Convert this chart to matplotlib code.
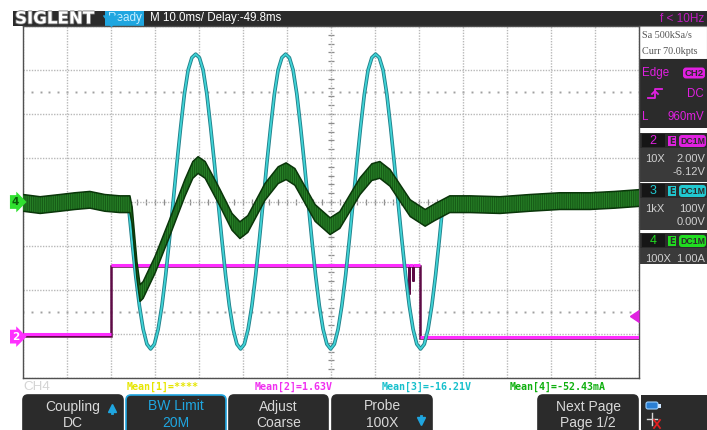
import numpy as np
import matplotlib
matplotlib.use("Agg")
import matplotlib.pyplot as plt
import matplotlib.transforms as mtransforms
import matplotlib.patheffects as pe
from matplotlib.patches import Rectangle, FancyBboxPatch

plt.rcParams["hatch.linewidth"] = 0.8

# ---------------- acquisition settings ----------------
TIME_PER_DIV = 10.0      # ms/div
H_DIVS = 14
V_DIVS = 8
T_LEFT = -20.0           # ms (trigger at t = 0)

CH2_SCALE, CH2_OFFSET = 2.0, -6.12     # V/div, V
CH3_SCALE, CH3_OFFSET = 100.0, 0.0     # V/div, V
CH4_SCALE, CH4_OFFSET = 1.0, 0.0       # A/div, A
TRIG_LEVEL = 0.96                      # V on CH2

# ---------------- waveforms ----------------
# CH2: gate/logic signal (V)
ch2_t = [-20.0, 0.1, 0.1, 67.7, 67.7, 67.7, 68.6, 68.6, 68.6, 70.2, 70.2, 120.0]
ch2_v = [0.10, 0.10, 3.25, 3.25, 2.00, 3.25, 3.25, 2.60, 3.25, 3.25, 0.00, 0.00]

# CH3: mains voltage burst (V)
ch3_t = [-20.0,
         3.90, 4.75, 5.60, 6.46, 7.31, 8.16, 9.01, 9.86, 10.72, 11.57, 12.42, 13.27,
         14.12, 14.98, 15.83, 16.68, 17.53, 18.38, 19.24, 20.09, 20.94, 21.79, 22.64, 23.50,
         24.35, 25.20, 26.05, 26.90, 27.76, 28.61, 29.46, 30.31, 31.16, 32.02, 32.87, 33.72,
         34.57, 35.42, 36.28, 37.13, 37.98, 38.83, 39.68, 40.54, 41.39, 42.24, 43.09, 43.94,
         44.80, 45.65, 46.50, 47.35, 48.20, 49.06, 49.91, 50.76, 51.61, 52.46, 53.32, 54.17,
         55.02, 55.87, 56.72, 57.58, 58.43, 59.28, 60.13, 60.98, 61.84, 62.69, 63.54, 64.39,
         65.24, 66.10, 66.95, 67.80, 68.65, 69.50, 70.36, 71.21, 72.06, 72.91, 73.76, 74.62,
         75.47,
         120.0]
ch3_v = [0,
         0, -86, -167, -236, -289, -323, -334, -323, -289, -236, -167, -86,
         0, 88, 170, 245, 300, 328, 336, 328, 300, 245, 170, 88,
         0, -86, -167, -236, -289, -323, -334, -323, -289, -236, -167, -86,
         0, 88, 170, 245, 300, 328, 336, 328, 300, 245, 170, 88,
         0, -86, -167, -236, -289, -323, -334, -323, -289, -236, -167, -86,
         0, 88, 170, 245, 300, 328, 336, 328, 300, 245, 170, 88,
         0, -86, -167, -236, -289, -323, -334, -323, -289, -236, -167, -86,
         0,
         0]

# CH4: load current (A), band centre and half width
ch4_t = [-20.0, -16.1, -11.6, -8.2, -4.8, -1.4, 2.0, 4.3, 4.8, 5.9, 6.6, 7.3,
         10.0, 13.4, 16.8, 18.6, 19.8, 21.4, 24.8, 27.5, 29.3, 31.1, 35.0,
         38.0, 39.8, 41.8, 46.4, 49.8, 52.0, 56.6, 59.3, 61.1, 63.4, 68.0,
         71.4, 73.6, 77.0, 81.6, 88.4, 95.2, 102.0, 108.9, 114.5, 120.0]
ch4_i = [-0.02, -0.07, -0.02, 0.02, 0.05, -0.02, -0.05, -0.05, -0.30, -1.55,
         -2.07, -2.00, -1.43, -0.57, 0.32, 0.73, 0.84, 0.73, 0.09, -0.45,
         -0.64, -0.50, 0.23, 0.61, 0.70, 0.57, -0.25, -0.55, -0.41, 0.36,
         0.68, 0.73, 0.55, -0.14, -0.36, -0.23, -0.05, -0.05, -0.07, -0.02,
         0.02, 0.02, 0.05, 0.09]
CH4_BAND = 0.19

# ---------------- colours ----------------
C_CH2 = "#ff2cff"
C_CH2_DARK = "#5e0b46"
C_CH3 = "#3fd3d6"
C_CH3_EDGE = "#21808a"
C_CH4 = "#135213"
C_CH4_NOISE = "#267f26"
C_CH4_EDGE = "#0a360a"
C_BLUE = "#1fa6e0"
C_DARK = "#2b2b2b"

W, H = 707, 430
fig = plt.figure(figsize=(W / 100, H / 100), dpi=100)
fig.patch.set_facecolor("white")

# full-figure layer for the instrument chrome (pixel coordinates)
ui = fig.add_axes([0, 0, 1, 1], zorder=0)
ui.set_xlim(0, W)
ui.set_ylim(H, 0)
ui.axis("off")

# ---- top status bar ----
ui.add_patch(Rectangle((13, 11), W - 13, 15, color=C_DARK, lw=0))
ui.text(15, 18.5, "SIGLENT", color="white", fontsize=12, fontweight="bold",
        family="DejaVu Sans", va="center", ha="left",
        path_effects=[pe.withStroke(linewidth=1.2, foreground="#777777")])
ui.add_patch(Rectangle((105, 11), 39, 15, color=C_BLUE, lw=0))
ui.text(124.5, 18.5, "Ready", color="#c8eeff", fontsize=8.5, family="Liberation Sans",
        va="center", ha="center")
ui.text(150, 18.5, "M 10.0ms/ Delay:-49.8ms", color="white", fontsize=8.3,
        family="Liberation Sans", va="center", ha="left")
ui.text(704, 18.5, "f < 10Hz", color="#c21cc2", fontsize=8.5, family="Liberation Sans",
        va="center", ha="right")

# ---- right information panel ----
ui.add_patch(Rectangle((639, 26), 68, 33, facecolor="white", edgecolor="#888888", lw=0.8))
ui.text(641.5, 35, "Sa 500kSa/s", color="#555555", fontsize=7.3, family="Liberation Serif",
        va="center")
ui.text(641.5, 51, "Curr 70.0kpts", color="#555555", fontsize=7.3, family="Liberation Serif",
        va="center")
ui.add_patch(Rectangle((639, 59), 68, 69, color=C_DARK, lw=0))
ui.text(642, 73, "Edge", color="#e020e0", fontsize=8.3, family="Liberation Sans", va="center")
ui.add_patch(FancyBboxPatch((683, 67.5), 22, 11, boxstyle="round,pad=0,rounding_size=3",
                            color="#e020e0", lw=0))
ui.text(694, 73.5, "CH2", color=C_DARK, fontsize=6.8, family="Liberation Sans",
        va="center", ha="center", fontweight="bold")
ui.plot([648, 655, 655, 662], [98, 98, 89, 89], color="#e020e0", lw=1.3)
ui.plot([652, 655, 658], [94, 91, 94], color="#e020e0", lw=1.3)
ui.text(704, 94, "DC", color="#e020e0", fontsize=8.3, family="Liberation Sans",
        va="center", ha="right")
ui.text(642, 117, "L", color="#e020e0", fontsize=8.3, family="Liberation Sans", va="center")
ui.text(704, 117, "960mV", color="#e020e0", fontsize=8.3, family="Liberation Sans",
        va="center", ha="right")

panels = [
    ("2", "#e020e0", 133, ["10X", "2.00V"], "-6.12V", 182),
    ("3", "#20c8d0", 183, ["1kX", "100V"], "0.00V", 230),
    ("4", "#20dd20", 233, ["100X", "1.00A"], None, 264),
]
for num, col, top, row1, row2, bottom in panels:
    ui.add_patch(Rectangle((639, top), 68, bottom - top, color="#3a3a3a", lw=0))
    ui.add_patch(Rectangle((639, top), 68, 15, color=C_DARK, lw=0))
    ui.add_patch(Rectangle((642, top + 1), 23, 13, color="#161616", lw=0))
    ui.text(653, top + 8, num, color=col, fontsize=9, family="Liberation Sans",
            va="center", ha="center")
    ui.add_patch(Rectangle((668, top + 3), 8, 10, facecolor=col, edgecolor="none"))
    ui.text(672, top + 8, "E", color="#2a2a2a", fontsize=6, family="DejaVu Sans",
            va="center", ha="center", fontweight="bold")
    ui.add_patch(FancyBboxPatch((679, top + 2), 27, 12, boxstyle="round,pad=0,rounding_size=3",
                                color=col, lw=0))
    ui.text(692.5, top + 8.5, "DC1M", color="#2a2a2a", fontsize=6.3, family="Liberation Sans",
            va="center", ha="center", fontweight="bold")
    ui.text(645, top + 26, row1[0], color="#d0d0d0", fontsize=8.0, family="Liberation Sans",
            va="center")
    ui.text(705, top + 26, row1[1], color="#d0d0d0", fontsize=8.0, family="Liberation Sans",
            va="center", ha="right")
    if row2:
        ui.text(705, top + 39, row2, color="#d0d0d0", fontsize=8.0,
                family="Liberation Sans", va="center", ha="right")

# ---- measurement line ----
ui.text(23, 387.5, "CH4", color="#d4d4d4", fontsize=9.7, family="Liberation Sans", va="center")
means = [("Mean[1]=****", "#e6e600", 127), ("Mean[2]=1.63V", "#f030f0", 255),
         ("Mean[3]=-16.21V", "#18c0cc", 382), ("Mean[4]=-52.43mA", "#10b010", 510)]
for txt, col, x0 in means:
    ui.text(x0, 387, txt, color=col, fontsize=7.2, family="DejaVu Sans Mono",
            fontweight="bold", va="center")

# ---- soft-key menu ----
buttons = [("Coupling", "DC", 23, 123, False, "up"),
           ("BW Limit", "20M", 126, 226, True, None),
           ("Adjust", "Coarse", 229, 328, False, None),
           ("Probe", "100X", 332, 432, False, "down"),
           ("Next Page", "Page 1/2", 538, 638, False, None)]
for l1, l2, x0, x1, sel, arrow in buttons:
    ui.add_patch(FancyBboxPatch((x0, 395), x1 - x0, 50,
                                boxstyle="round,pad=0,rounding_size=5",
                                facecolor=C_DARK, edgecolor=C_BLUE if sel else C_DARK,
                                lw=1.2))
    tc = C_BLUE if sel else "#d8d8d8"
    xc = (x0 + x1) / 2
    ui.text(xc, 406.5, l1, color=tc, fontsize=10, family="Liberation Sans",
            ha="center", va="center")
    ui.text(xc, 423, l2, color=tc, fontsize=10, family="Liberation Sans",
            ha="center", va="center")
    if arrow == "up":
        ui.plot([x1 - 11], [408], marker="^", ms=6, color=C_BLUE)
        ui.plot([x1 - 11, x1 - 11], [409, 413], color=C_BLUE, lw=2)
    elif arrow == "down":
        ui.plot([x1 - 11], [421], marker="v", ms=6, color=C_BLUE)
        ui.plot([x1 - 11, x1 - 11], [416, 420], color=C_BLUE, lw=2)

ui.add_patch(Rectangle((641, 395), 66, 40, color=C_DARK, lw=0))
ui.add_patch(FancyBboxPatch((646, 402), 12, 7, boxstyle="round,pad=0,rounding_size=2",
                            facecolor="#2a7fd4", edgecolor="#9ad0ff", lw=0.8))
ui.add_patch(Rectangle((658, 403.5), 3, 4, color="#cfe6ff", lw=0))
ui.plot([652, 652], [413, 425], color="#d8d8d8", lw=1)
ui.plot([647, 657], [419, 419], color="#d8d8d8", lw=1)
ui.plot([654, 660], [420, 428], color="#e02020", lw=1.3)
ui.plot([654, 660], [428, 420], color="#e02020", lw=1.3)

# ---------------- screen / graticule ----------------
ax = fig.add_axes([23 / W, (H - 378) / H, 616 / W, 352 / H], zorder=2)
ax.set_facecolor("white")
t_right = T_LEFT + H_DIVS * TIME_PER_DIV
ax.set_xlim(T_LEFT, t_right)
ax.set_ylim(-V_DIVS / 2, V_DIVS / 2)
ax.set_xticks(np.arange(T_LEFT, t_right + 0.1, TIME_PER_DIV))
ax.set_yticks(np.arange(-V_DIVS / 2, V_DIVS / 2 + 0.1, 1))
ax.tick_params(length=0, labelbottom=False, labelleft=False)
ax.grid(True, color="#b8b8b8", linestyle=(0, (1, 1)), lw=1.0, zorder=0)
for side in ax.spines.values():
    side.set_color("#505050")
    side.set_linewidth(1.0)

t_mid = T_LEFT + H_DIVS * TIME_PER_DIV / 2
minor_t = np.arange(T_LEFT, t_right + 0.01, TIME_PER_DIV / 5)
minor_v = np.arange(-V_DIVS / 2, V_DIVS / 2 + 0.01, 0.2)
ax.plot(minor_t, np.zeros_like(minor_t), ls="none", marker="|", ms=4, mew=0.9,
        color="#8c8c8c", zorder=1)
ax.plot(np.full_like(minor_v, t_mid), minor_v, ls="none", marker="_", ms=4, mew=0.9,
        color="#8c8c8c", zorder=1)
for lvl in (2.5, -2.5):
    ax.plot(minor_t, np.full_like(minor_t, lvl), ls="none", marker="s", ms=1.4,
            mew=0, color="#a0a0a0", zorder=1)

# ---------------- traces ----------------
ch2_div = (np.array(ch2_v) + CH2_OFFSET) / CH2_SCALE
ch2_tt = np.array(ch2_t)
down = mtransforms.offset_copy(ax.transData, fig=fig, x=0, y=-1.3, units="dots")
ax.plot(ch2_tt, ch2_div, color=C_CH2_DARK, lw=1.8, transform=down, zorder=3,
        solid_joinstyle="miter")
flat = np.isclose(np.diff(ch2_div), 0)
for i in np.where(flat)[0]:
    ax.plot(ch2_tt[i:i + 2], ch2_div[i:i + 2], color=C_CH2, lw=2.2, zorder=3.1,
            solid_capstyle="butt")

ch3_div = (np.array(ch3_v) + CH3_OFFSET) / CH3_SCALE
ax.plot(ch3_t, ch3_div, color=C_CH3, lw=1.3, zorder=4,
        path_effects=[pe.Stroke(linewidth=2.6, foreground=C_CH3_EDGE), pe.Normal()])

ch4_div = (np.array(ch4_i) + CH4_OFFSET) / CH4_SCALE
band = CH4_BAND / CH4_SCALE
ax.fill_between(ch4_t, ch4_div - band, ch4_div + band, facecolor=C_CH4,
                edgecolor=C_CH4_NOISE, hatch="|||||||||", lw=0, zorder=5)
ax.plot(ch4_t, ch4_div - band, color=C_CH4_EDGE, lw=1.1, zorder=5.1)
ax.plot(ch4_t, ch4_div + band, color=C_CH4_EDGE, lw=1.1, zorder=5.1)

# ---------------- markers ----------------
# trigger position (top), trigger level (right), channel offsets (left)
ax.plot([0], [V_DIVS / 2], marker=7, ms=11, color=C_BLUE, clip_on=False, zorder=6)
ax.plot([t_right], [(TRIG_LEVEL + CH2_OFFSET) / CH2_SCALE], marker=8, ms=9,
        color="#e020e0", clip_on=False, zorder=6)
left_edge = mtransforms.blended_transform_factory(ax.transAxes, ax.transData)
left_edge = left_edge + mtransforms.ScaledTranslation(-7.5 / 100, 0, fig.dpi_scale_trans)
for num, offs, scale, col, tcol in [("2", CH2_OFFSET, CH2_SCALE, "#ff30ff", "white"),
                                    ("4", CH4_OFFSET, CH4_SCALE, "#30e030", "#0a5a0a")]:
    ax.text(0, offs / scale, num, transform=left_edge, ha="center", va="center",
            fontsize=7.5, fontweight="bold", color=tcol, clip_on=False, zorder=6,
            bbox=dict(boxstyle="rarrow,pad=0.18", fc=col, ec="none"))

fig.savefig("out.png", dpi=100)
